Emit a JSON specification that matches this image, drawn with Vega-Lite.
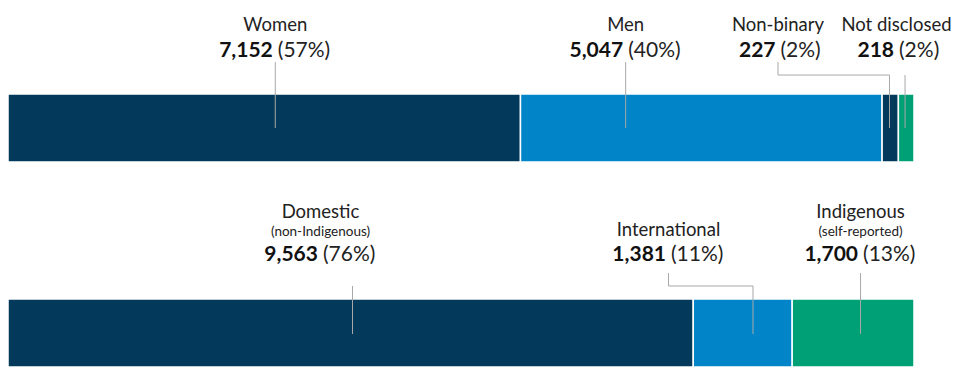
{
  "$schema": "https://vega.github.io/schema/vega-lite/v6.json",
  "width": 906,
  "height": 273,
  "autosize": "none",
  "padding": {"left": 8, "top": 94, "right": 46, "bottom": 10},
  "background": "white",
  "config": {"view": {"stroke": null}, "font": "Lato"},
  "data": {
    "values": [
      {"group": "Gender", "category": "Women", "order": 1, "count": 7152, "pct": 57, "sub": null, "labelAt": 3730, "leaderAt": 3730},
      {"group": "Gender", "category": "Men", "order": 2, "count": 5047, "pct": 40, "sub": null, "labelAt": 8620, "leaderAt": 8620},
      {"group": "Gender", "category": "Non-binary", "order": 3, "count": 227, "pct": 2, "sub": null, "labelAt": 10746, "leaderAt": 12302},
      {"group": "Gender", "category": "Not disclosed", "order": 4, "count": 218, "pct": 2, "sub": null, "labelAt": 12400, "leaderAt": 12519},
      {"group": "Status", "category": "Domestic", "order": 1, "count": 9563, "pct": 76, "sub": "(non-Indigenous)", "labelAt": 4361, "leaderAt": 4808},
      {"group": "Status", "category": "International", "order": 2, "count": 1381, "pct": 11, "sub": null, "labelAt": 9218, "leaderAt": 10397},
      {"group": "Status", "category": "Indigenous", "order": 3, "count": 1700, "pct": 13, "sub": "(self-reported)", "labelAt": 11898, "leaderAt": 11898}
    ]
  },
  "encoding": {
    "y": {
      "field": "group",
      "type": "nominal",
      "axis": null,
      "scale": {"domain": ["Gender", "Status"], "paddingInner": 0.668, "paddingOuter": 0}
    }
  },
  "layer": [
    {
      "mark": {"type": "bar", "stroke": "white", "strokeWidth": 1.5},
      "encoding": {
        "x": {"field": "count", "type": "quantitative", "stack": "zero", "axis": null, "scale": {"domain": [0, 12644], "nice": false, "zero": true}},
        "color": {
          "field": "category",
          "type": "nominal",
          "legend": null,
          "scale": {
            "domain": ["Women", "Men", "Non-binary", "Not disclosed", "Domestic", "International", "Indigenous"],
            "range": ["#033A5B", "#0284C8", "#033A5B", "#00A077", "#033A5B", "#0284C8", "#00A077"]
          }
        },
        "order": {"field": "order", "type": "quantitative"}
      }
    },
    {
      "transform": [{"filter": "datum.group === 'Gender' && (abs(datum.leaderAt - datum.labelAt) < 50 || abs(datum.leaderAt - datum.labelAt) > 500)"}],
      "mark": {"type": "rule", "color": "#A8A8A8", "strokeWidth": 1, "yOffset": -66, "y2Offset": -53},
      "encoding": {"x": {"field": "labelAt", "type": "quantitative"}, "y2": {"field": "group"}}
    },
    {
      "transform": [{"filter": "datum.group === 'Status' && (abs(datum.leaderAt - datum.labelAt) < 50 || abs(datum.leaderAt - datum.labelAt) > 500)"}],
      "mark": {"type": "rule", "color": "#A8A8A8", "strokeWidth": 1, "yOffset": -60, "y2Offset": -47},
      "encoding": {"x": {"field": "labelAt", "type": "quantitative"}, "y2": {"field": "group"}}
    },
    {
      "transform": [{"filter": "datum.group === 'Gender' && abs(datum.leaderAt - datum.labelAt) > 500"}],
      "mark": {"type": "rule", "color": "#A8A8A8", "strokeWidth": 1, "yOffset": -53},
      "encoding": {"x": {"field": "labelAt", "type": "quantitative"}, "x2": {"field": "leaderAt"}}
    },
    {
      "transform": [{"filter": "datum.group === 'Status' && abs(datum.leaderAt - datum.labelAt) > 500"}],
      "mark": {"type": "rule", "color": "#A8A8A8", "strokeWidth": 1, "yOffset": -47},
      "encoding": {"x": {"field": "labelAt", "type": "quantitative"}, "x2": {"field": "leaderAt"}}
    },
    {
      "transform": [{"filter": "datum.group === 'Gender'"}],
      "mark": {"type": "rule", "color": "#A8A8A8", "strokeWidth": 1, "yOffset": -53, "y2Offset": 0},
      "encoding": {"x": {"field": "leaderAt", "type": "quantitative"}, "y2": {"field": "group"}}
    },
    {
      "transform": [{"filter": "datum.group === 'Status'"}],
      "mark": {"type": "rule", "color": "#A8A8A8", "strokeWidth": 1, "yOffset": -47, "y2Offset": 1},
      "encoding": {"x": {"field": "leaderAt", "type": "quantitative"}, "y2": {"field": "group"}}
    },
    {
      "transform": [{"filter": "datum.sub == null"}],
      "mark": {"type": "text", "baseline": "alphabetic", "align": "center", "dy": -97, "fontSize": 18.5, "color": "#222222"},
      "encoding": {"x": {"field": "labelAt", "type": "quantitative"}, "text": {"field": "category"}}
    },
    {
      "transform": [{"filter": "datum.sub != null"}],
      "mark": {"type": "text", "baseline": "alphabetic", "align": "center", "dy": -115, "fontSize": 18.5, "color": "#222222"},
      "encoding": {"x": {"field": "labelAt", "type": "quantitative"}, "text": {"field": "category"}}
    },
    {
      "transform": [{"filter": "datum.sub != null"}],
      "mark": {"type": "text", "baseline": "alphabetic", "align": "center", "dy": -96.5, "fontSize": 13.5, "color": "#222222"},
      "encoding": {"x": {"field": "labelAt", "type": "quantitative"}, "text": {"field": "sub"}}
    },
    {
      "mark": {"type": "text", "baseline": "alphabetic", "align": "right", "dx": -2.5, "dy": -71.5, "fontSize": 21, "fontWeight": "bold", "color": "#111111"},
      "encoding": {"x": {"field": "labelAt", "type": "quantitative"}, "text": {"field": "count", "type": "quantitative", "format": ","}}
    },
    {
      "transform": [{"calculate": "'(' + datum.pct + '%)'", "as": "pctLabel"}],
      "mark": {"type": "text", "baseline": "alphabetic", "align": "left", "dx": 2.5, "dy": -71.5, "fontSize": 21, "color": "#222222"},
      "encoding": {"x": {"field": "labelAt", "type": "quantitative"}, "text": {"field": "pctLabel"}}
    }
  ]
}
